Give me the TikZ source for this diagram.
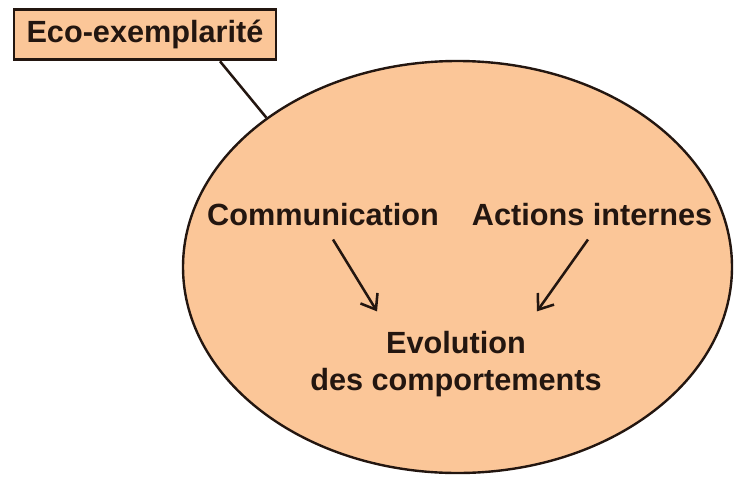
\documentclass[tikz,border=0pt]{standalone}
\usepackage{fontspec}
\setmainfont{Liberation Sans}
\usetikzlibrary{shapes.geometric,arrows.meta}

\definecolor{peach}{RGB}{251,198,152}
\definecolor{inkbrown}{RGB}{35,22,16}

\tikzset{
  label text/.style={font=\bfseries\fontsize{23}{27.6}\selectfont, text=inkbrown, inner sep=0.75pt},
  flow arrow/.style={draw=inkbrown, line width=1.9pt, -{Straight Barb[length=10pt,width=15pt,line width=1.9pt]}}
}

\begin{document}
\begin{tikzpicture}[x=0.75pt,y=0.75pt,yscale=-1,xscale=1]
\path (0,0) rectangle (742,482); %set diagram to the size of the reference

%Shape: Ellipse [id:oval]
\node [ellipse, draw=inkbrown, line width=1.8pt, fill=peach, minimum width=411.75pt, minimum height=309pt, inner sep=0pt] (oval) at (457.5,267) {};

%Shape: Rectangle [id:eco]
\node [label text, draw=inkbrown, line width=2.2pt, fill=peach, minimum width=196.5pt, minimum height=38pt] (eco) at (145,34.5) {Eco-exemplarit\'e};

%Straight Lines [id:link]
\draw [draw=inkbrown, line width=1.9pt] ([xshift=56.25pt]eco.south) -- (oval.142) ;

% Text Node
\node [label text] (comm) at (323,215) {Communication};
% Text Node
\node [label text] (act) at (592,215) {Actions internes};
% Text Node
\node [label text, align=center] (evol) at (456,364) {Evolution\\des comportements};

%Straight Lines [id:arrows]
\draw [flow arrow] ([xshift=7.5pt,yshift=9pt]comm.south) -- ([xshift=51pt,yshift=-14pt]evol.north west) ;
\draw [flow arrow] ([xshift=-3pt,yshift=9pt]act.south) -- ([xshift=-49.5pt,yshift=-14pt]evol.north east) ;

\end{tikzpicture}
\end{document}
